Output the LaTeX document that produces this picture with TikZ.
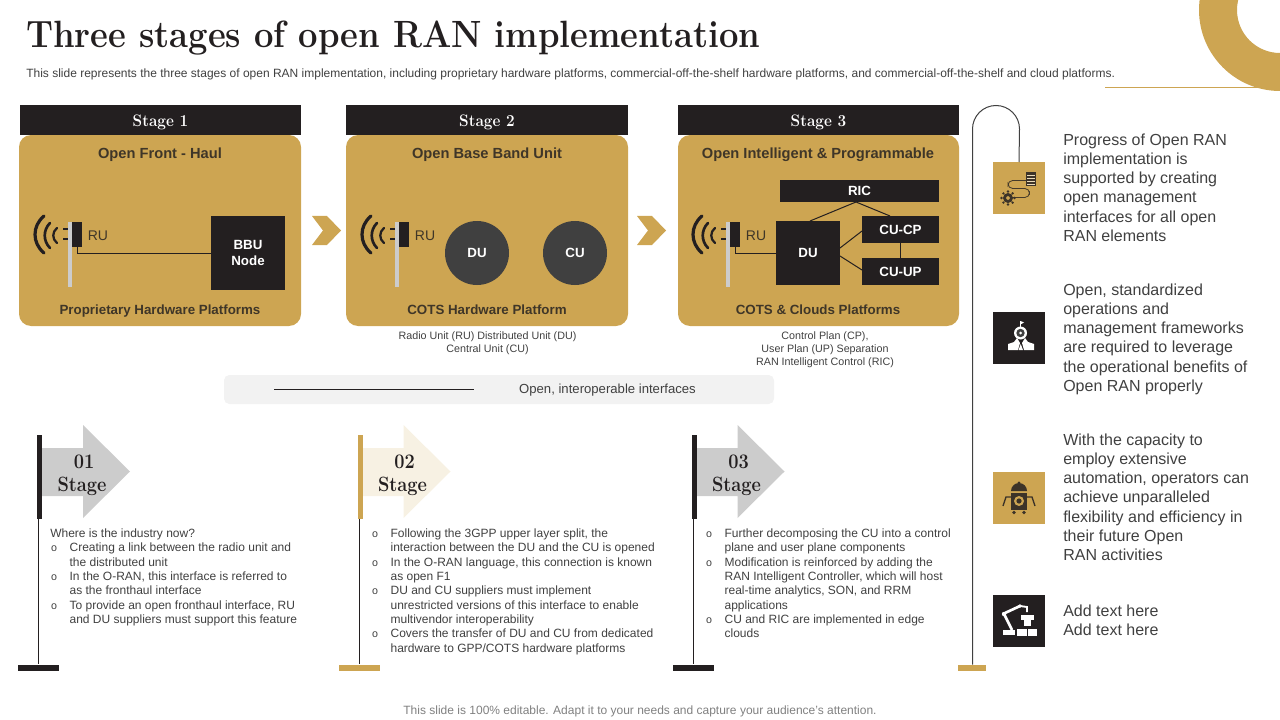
\documentclass[tikz,border=0pt]{standalone}
\usepackage{graphicx}
\usepackage{fontspec}
\setmainfont{Liberation Sans}
\newfontfamily\headfont{Latin Modern Roman}
\usetikzlibrary{calc}
\definecolor{gold}{HTML}{CDA552}
\definecolor{ink}{HTML}{231F20}
\definecolor{txt}{HTML}{404040}
\definecolor{brown}{HTML}{3F3628}
\definecolor{greyarrow}{HTML}{CCCCCC}
\definecolor{palearrow}{HTML}{F7F1E3}
\definecolor{bar}{HTML}{F2F2F2}
\definecolor{discc}{HTML}{404040}
\newcommand{\bu}{\makebox[14.5pt][l]{\hspace{0.6pt}\fontsize{8}{8}\selectfont o}}
\newcommand{\ind}{\hspace*{14.5pt}}
\newcommand{\narrow}[2]{\scalebox{#1}[1]{#2}}
\tikzset{
 x=0.75pt,y=-0.75pt,
 wh/.style 2 args={minimum width=#1*0.75pt,minimum height=#2*0.75pt,inner sep=0pt,outer sep=0pt},
 blackbox/.style={fill=ink,text=white,font=\bfseries\fontsize{10}{12.5}\selectfont,align=center},
 header/.style={fill=ink,text=white,font=\headfont\bfseries\fontsize{12.5}{14}\selectfont},
 panel/.style={fill=gold,rounded corners=9pt},
 paneltitle/.style={inner sep=0pt,text height=8pt,text depth=2pt,text=brown,font=\bfseries\fontsize{11}{12}\selectfont},
 panelfoot/.style={inner sep=0pt,text height=8pt,text depth=2pt,text=brown,font=\bfseries\fontsize{10}{12}\selectfont},
 rulabel/.style={inner sep=0pt,text=brown,font=\fontsize{10.5}{12}\selectfont},
 wire/.style={draw=ink,line width=0.75pt},
 wave/.style={draw=ink,line width=2pt,line cap=round},
 caption/.style={inner sep=0pt,text=txt,align=center,font=\fontsize{8.05}{9.7}\selectfont},
 stagelab/.style={inner sep=0pt,text=ink,font=\headfont\bfseries\fontsize{15.5}{17}\selectfont},
 bodytext/.style={inner sep=0pt,anchor=north west,align=left,text=txt,font=\fontsize{9}{10.75}\selectfont},
 sidetext/.style={inner sep=0pt,anchor=north west,align=left,text=txt,font=\fontsize{12}{14.4}\selectfont},
 iconbox/.style={inner sep=0pt,outer sep=0pt,minimum width=39pt,minimum height=39pt},
}
\begin{document}
\begin{tikzpicture}
\useasboundingbox (0,0) rectangle (1280,720);
\begin{scope}
\clip (0,0) rectangle (1280,720);
\fill[gold,even odd rule] (1280,10) circle[radius=81] (1280,10) circle[radius=43];
\end{scope}
\coordinate (ruleA) at (1105,87.7);
\coordinate (ruleB) at (1258,87.7);
\draw[gold,line width=0.9pt] (ruleA) -- (ruleB);
\node[inner sep=0pt,anchor=west,text=ink] (title) at (26,38.5) {\headfont\bfseries\fontsize{28.5}{32}\selectfont\narrow{0.91}{Three stages of open RAN implementation}};
\node[inner sep=0pt,anchor=west,text=txt] (subtitle) at (26,74.5) {\fontsize{9}{11}\selectfont This slide represents the three stages of open RAN implementation, including proprietary hardware platforms, commercial-off-the-shelf hardware platforms, and commercial-off-the-shelf and cloud platforms.};

% ---------- panels
\fill[panel] (19,135) rectangle (301,326);
\fill[panel] (346,135) rectangle (628,326);
\fill[panel] (678,135) rectangle (959,326);
\node[header,wh={281}{30}] (h1) at (160.5,120) {\raisebox{-4.6pt}[0pt][0pt]{\narrow{0.92}{Stage 1}}};
\node[header,wh={282}{30}] (h2) at (487,120) {\raisebox{-4.6pt}[0pt][0pt]{\narrow{0.92}{Stage 2}}};
\node[header,wh={281}{30}] (h3) at (818.5,120) {\raisebox{-4.6pt}[0pt][0pt]{\narrow{0.92}{Stage 3}}};
\node[paneltitle] (t1) at (160,155) {Open Front - Haul};
\node[paneltitle] (t2) at (487,155) {Open Base Band Unit};
\node[paneltitle] (t3) at (818,155) {Open Intelligent \& Programmable};
\node[panelfoot] (f1) at (160,310) {Proprietary Hardware Platforms};
\node[panelfoot] (f2) at (487,310) {COTS Hardware Platform};
\node[panelfoot] (f3) at (818,310) {COTS \& Clouds Platforms};

% ---------- antennas
\foreach \dx/\nm in {0/a,327/b,658/c}{
\begin{scope}[shift={(\dx,0)}]
\fill[greyarrow] (68,222) rectangle (72,287);
\draw[wave,line width=2.4pt] (44,216) .. controls (32,226) and (32,243) .. (44,253);
\draw[wave] (50,223) .. controls (43,230) and (43,241) .. (50,248);
\draw[wave,line width=1.7pt] (57,228) .. controls (52,232) and (52,239) .. (57,243);
\draw[ink,line width=1.5pt] (63,229.5) -- (68,229.5) (63,239.5) -- (68,239.5);
\node[fill=ink,wh={10}{25}] (ru\nm) at (77,234.5) {};
\node[rulabel] (rul\nm) at (98,235.5) {RU};
\end{scope}}

% ---------- stage 1
\node[blackbox,wh={74}{74}] (bbu) at (248,253) {BBU\\Node};
\draw[wire] (rua.south) |- (bbu.west);
% ---------- stage 2
\node[circle,fill=discc,text=white,font=\bfseries\fontsize{10}{12}\selectfont,wh={64}{64}] (du2) at (477,253) {DU};
\node[circle,fill=discc,text=white,font=\bfseries\fontsize{10}{12}\selectfont,wh={64}{64}] (cu2) at (575,253) {CU};
% ---------- stage 3
\node[blackbox,wh={159}{22}] (ric) at (859.5,191) {RIC};
\node[blackbox,wh={64}{64}] (du3) at (808,253) {DU};
\node[blackbox,wh={77}{27}] (cucp) at (900.5,229.5) {CU-CP};
\node[blackbox,wh={77}{27}] (cuup) at (900.5,271.5) {CU-UP};
\coordinate (ricdrop) at (856,202);
\coordinate (dutop) at (810,221);
\coordinate (cptop) at (890,216);
\coordinate (duA) at (840,248);
\coordinate (duB) at (840,256);
\coordinate (cpA) at (862,231);
\coordinate (upA) at (862,270);
\draw[wire] (ruc.south) |- (du3.west);
\draw[wire] (dutop) -- (ricdrop) -- (cptop);
\draw[wire] (duA) -- (cpA);
\draw[wire] (duB) -- (upA);
\draw[wire] (cucp) -- (cuup);

% ---------- chevrons
\fill[gold] (312,216) -- (327,216) -- (341,230.5) -- (327,245) -- (312,245) -- (323,230.5) -- cycle;
\fill[gold] (637,216) -- (652,216) -- (666,230.5) -- (652,245) -- (637,245) -- (648,230.5) -- cycle;

% ---------- captions
\node[caption] (c2) at (487.5,343) {Radio Unit (RU) Distributed Unit (DU)\\Central Unit (CU)};
\node[caption] (c3) at (825,349.5) {Control Plan (CP),\\User Plan (UP) Separation\\RAN Intelligent Control (RIC)};

% ---------- interface bar
\fill[bar,rounded corners=4pt] (224,375) rectangle (774,404);
\coordinate (ifA) at (274,389);
\coordinate (ifB) at (474,389);
\draw[ink,line width=0.75pt] (ifA) -- (ifB);
\node[inner sep=0pt,text=txt,font=\fontsize{9.85}{11}\selectfont] (iflab) at (607.5,390.5) {Open, interoperable interfaces};

% ---------- flags
\foreach \dx/\pole/\head/\num in {0/ink/greyarrow/01,320.5/gold/palearrow/02,654.5/ink/greyarrow/03}{
\begin{scope}[shift={(\dx,0)}]
\fill[\head] (42,448) -- (83,448) -- (83,425) -- (130,471.5) -- (83,518) -- (83,496) -- (42,496) -- cycle;
\fill[\pole] (37,435) rectangle (42,519);
\draw[ink,line width=0.75pt] (38.5,519) -- (38.5,664);
\fill[\pole] (18,664.5) rectangle (59,671);
\node[stagelab] at (84,461.5) {\narrow{0.88}{\num}};
\node[stagelab] at (82,486) {\narrow{0.88}{Stage}};
\end{scope}}

% ---------- body text
\node[bodytext] (b1) at (50,528.5) {Where is the industry now?\\
\bu Creating a link between the radio unit and\\
\ind the distributed unit\\
\bu In the O-RAN, this interface is referred to\\
\ind as the fronthaul interface\\
\bu To provide an open fronthaul interface, RU\\
\ind and DU suppliers must support this feature};
\node[bodytext] (b2) at (371,528.5) {\bu Following the 3GPP upper layer split, the\\
\ind interaction between the DU and the CU is opened\\
\bu In the O-RAN language, this connection is known\\
\ind as open F1\\
\bu DU and CU suppliers must implement\\
\ind unrestricted versions of this interface to enable\\
\ind multivendor interoperability\\
\bu Covers the transfer of DU and CU from dedicated\\
\ind hardware to GPP/COTS hardware platforms};
\node[bodytext] (b3) at (705,528.5) {\bu Further decomposing the CU into a control\\
\ind plane and user plane components\\
\bu Modification is reinforced by adding the\\
\ind RAN Intelligent Controller, which will host\\
\ind real-time analytics, SON, and RRM\\
\ind applications\\
\bu CU and RIC are implemented in edge\\
\ind clouds};

% ---------- timeline
\node[iconbox,fill=gold,anchor=north west] (i1) at (993,162) {};
\node[iconbox,fill=ink,anchor=north west] (i2) at (993,312) {};
\node[iconbox,fill=gold,anchor=north west] (i3) at (993,471.5) {};
\node[iconbox,fill=ink,anchor=north west] (i4) at (993,594.5) {};
\fill[gold] (958,664.5) rectangle (986,671);
\coordinate (lineEnd) at (972.5,664.5);
\draw[discc,line width=0.75pt] (lineEnd) -- (972.5,129) arc[start angle=180,end angle=360,radius=23.5] -- (i1.north);

% icon 1
\draw[ink!80!gold,line width=0.6pt,rounded corners=3.5pt] (1026,180.5) -- (1008,180.5) -- (1008,188.5) -- (1029.5,188.5) -- (1029.5,197.5) -- (1012,197.5);
\fill[ink!85!gold] (1026,172) rectangle (1036,186);
\foreach \yy in {175,178,181,184} \draw[gold!40!white,line width=0.35pt] (1027,\yy) -- (1035,\yy);
\foreach \ang in {0,45,...,315} \fill[ink!85!gold] ($(1008,198)+(\ang:6.5)$) circle[radius=1.3];
\fill[ink!85!gold,even odd rule] (1008,198) circle[radius=5] (1008,198) circle[radius=2];

% icon 2
\draw[white,line width=0.6pt] (1020.5,328) -- (1020.5,321);
\fill[white] (1020.5,321) -- (1024,322.5) -- (1020.5,324.5) -- cycle;
\fill[white] (1020.5,333) circle[radius=6.5];
\fill[discc] (1020.5,333) circle[radius=4.2];
\fill[white] (1020.5,333) circle[radius=1.5];
\fill[white] (1008,344) -- (1014,342) -- (1017,338) -- (1020,343) -- (1018,350) -- (1008,350) -- cycle;
\fill[white] (1034,344) -- (1028,342) -- (1025,338) -- (1022,343) -- (1024,350) -- (1034,350) -- cycle;
\fill[white] (1018.5,350) -- (1020.7,344) -- (1023,350) -- cycle;

% icon 3
\fill[ink!85!gold] (1019,483) circle[radius=1.6];
\fill[ink!85!gold] (1011,491) arc[start angle=180,end angle=360,radius=8] -- cycle;
\fill[ink!85!gold] (1011,493) rectangle (1027,510);
\fill[gold] (1019,501) circle[radius=5];
\fill[ink!85!gold] (1019,501) circle[radius=2.6];
\fill[ink!85!gold] (1014,512.5) circle[radius=1.8] (1024,512.5) circle[radius=1.8];
\draw[ink!85!gold,line width=1pt] (1011,497) -- (1006,497) -- (1003,506);
\draw[ink!85!gold,line width=1pt] (1027,497) -- (1032,497) -- (1035,506);

% icon 4
\draw[white,line width=2pt] (1004,614) -- (1012,630);
\draw[white,line width=2pt] (1005,613) -- (1020,606);
\draw[white,line width=1.4pt] (1020,606) -- (1027,607) -- (1027,612);
\fill[white] (1003,630) rectangle (1015,635);
\fill[white] (1021,615) rectangle (1034,620);
\fill[white] (1024,620) rectangle (1031,626);
\fill[white] (1017,629) rectangle (1027,636);
\fill[white] (1028,629) rectangle (1037,636);
\fill[white] (1004,614) circle[radius=2.2] (1020,606) circle[radius=1.8];

% ---------- side text
\node[sidetext] (s1) at (1063,133.5) {Progress of Open RAN\\implementation is\\supported by creating\\open management\\interfaces for all open\\RAN elements};
\node[sidetext] (s2) at (1063,283.5) {Open, standardized\\operations and\\management frameworks\\are required to leverage\\the operational benefits of\\Open RAN properly};
\node[sidetext] (s3) at (1063,433.5) {With the capacity to\\employ extensive\\automation, operators can\\achieve unparalleled\\flexibility and efficiency in\\their future Open\\RAN activities};
\node[sidetext] (s4) at (1063,604.5) {Add text here\\Add text here};

\node[inner sep=0pt,text=black!50,font=\fontsize{9}{11}\selectfont] (foot) at (640,711) {This slide is 100\% editable. Adapt it to your needs and capture your audience's attention.};
\end{tikzpicture}
\end{document}
